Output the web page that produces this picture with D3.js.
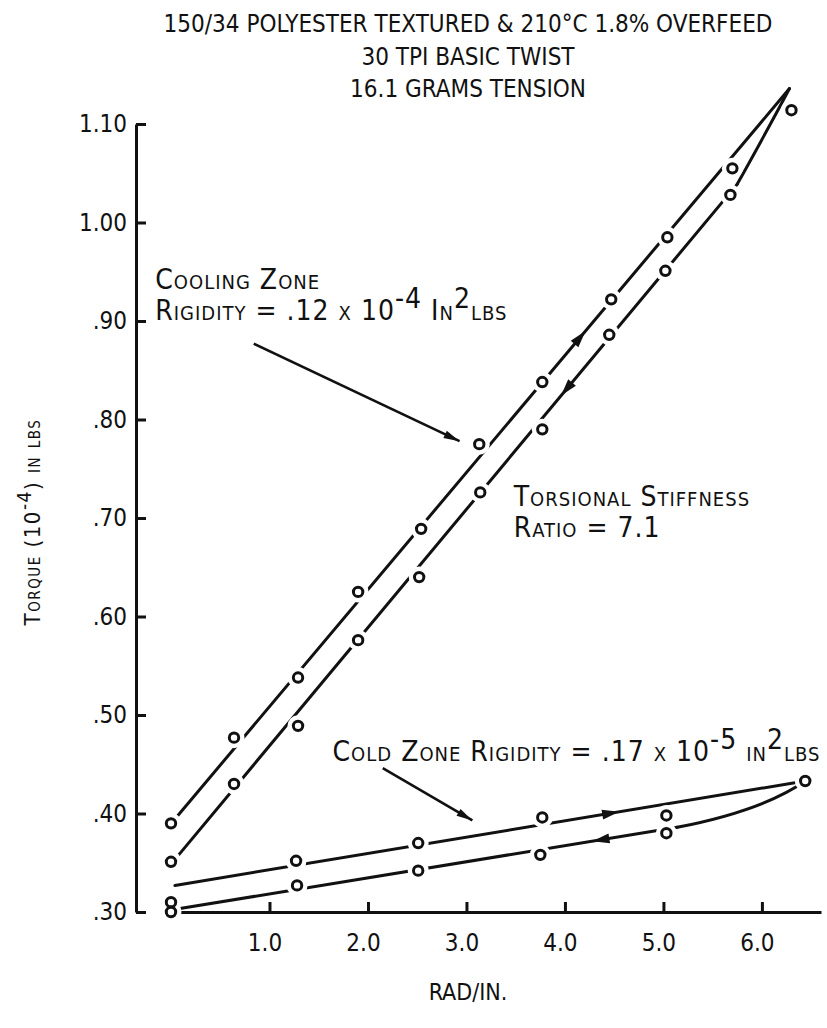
<!DOCTYPE html>
<html>
<head>
<meta charset="utf-8">
<script src="https://cdn.jsdelivr.net/npm/d3@7"></script>
<style>
  body { margin: 0; background: #fff; }
  text { font-family: "DejaVu Sans Condensed", "DejaVu Sans", sans-serif; fill: #111; }
</style>
</head>
<body>
<div id="chart"></div>
<script>
const width = 827;
const height = 1028;

// Title and axis text
const titleLines = ['150/34 POLYESTER TEXTURED & 210°C 1.8% OVERFEED', '30 TPI BASIC TWIST', '16.1 GRAMS TENSION'];
const yTicks = [0.30, 0.40, 0.50, 0.60, 0.70, 0.80, 0.90, 1.00, 1.10];
const yTickLabels = ['.30', '.40', '.50', '.60', '.70', '.80', '.90', '1.00', '1.10'];
const xTicks = [1, 2, 3, 4, 5, 6];
const xTickLabels = ['1.0', '2.0', '3.0', '4.0', '5.0', '6.0'];

// Cooling zone readings (rad/in, torque)
const coolUpX = [0, 0.64, 1.29, 1.90, 2.54, 3.13, 3.77, 4.47, 5.04, 5.70];
const coolUpY = [0.390, 0.477, 0.538, 0.625, 0.689, 0.775, 0.838, 0.922, 0.985, 1.055];
const coolDownX = [0, 0.64, 1.29, 1.90, 2.52, 3.14, 3.77, 4.45, 5.02, 5.68];
const coolDownY = [0.351, 0.430, 0.489, 0.576, 0.640, 0.726, 0.790, 0.886, 0.951, 1.028];
const coolTopPoint = [6.30, 1.114];

// Cold zone readings
const coldUpX = [0, 1.27, 2.51, 3.77, 5.03];
const coldUpY = [0.310, 0.352, 0.370, 0.396, 0.398];
const coldDownX = [0, 1.28, 2.51, 3.75, 5.03];
const coldDownY = [0.300, 0.327, 0.342, 0.358, 0.380];
const coldTopPoint = [6.44, 0.433];

// Hand-drawn fit lines (start, end) and return curves (start, control, end)
const coolUpLine = [[0.07, 0.398], [6.28, 1.136]];
const coolDownLine = [[0.07, 0.357], [5.75, 1.039]];
const coolReturn = [[5.75, 1.039], [6.09, 1.100], [6.28, 1.136]];
const coldUpLine = [[0.04, 0.327], [6.44, 0.433]];
const coldDownLine = [[0.06, 0.303], [5.14, 0.386]];
const coldReturn = [[5.14, 0.386], [6.01, 0.403], [6.44, 0.433]];

// Direction arrows on the curves: [line, x position, direction]
const flowArrows = [
  [coolUpLine, 4.15, 1],
  [coolDownLine, 4.02, -1],
  [coldUpLine, 4.46, 1],
  [coldDownLine, 4.37, -1]
];

// Annotation pointers (from, to)
const coolPointer = [[0.84, 0.877], [2.93, 0.778]];
const coldPointer = [[2.15, 0.446], [3.06, 0.393]];

const svg = d3.select('#chart')
  .append('svg')
  .attr('width', width)
  .attr('height', height);

const x = d3.scaleLinear().domain([0, 6.6]).range([171, 821]);
const y = d3.scaleLinear().domain([0.30, 1.10]).range([912, 124]);

// Title
svg.append('g')
  .selectAll('text')
  .data(titleLines)
  .enter()
  .append('text')
  .attr('x', 468)
  .attr('y', (d, i) => 32 + i * 32.5)
  .attr('text-anchor', 'middle')
  .attr('font-size', '24px')
  .text(d => d);

// Y axis
const yAxis = svg.append('g')
  .attr('transform', 'translate(136,0)')
  .call(d3.axisLeft(y)
    .tickValues(yTicks)
    .tickFormat((d, i) => yTickLabels[i])
    .tickSize(-10)
    .tickSizeOuter(0)
    .tickPadding(9));

// X axis
const xAxis = svg.append('g')
  .attr('transform', `translate(0,${y(0.30)})`)
  .call(d3.axisBottom(x)
    .tickValues(xTicks)
    .tickFormat((d, i) => xTickLabels[i])
    .tickSize(-10)
    .tickSizeOuter(0)
    .tickPadding(22));

[yAxis, xAxis].forEach(ax => {
  ax.select('.domain').attr('stroke', '#111').attr('stroke-width', 3);
  ax.selectAll('.tick line').attr('stroke', '#111').attr('stroke-width', 3);
  ax.selectAll('.tick text').attr('font-size', '24px').attr('fill', '#111')
    .attr('font-family', '"DejaVu Sans Condensed", "DejaVu Sans", sans-serif');
});
xAxis.selectAll('.tick text').attr('dx', -5);

// Axis titles
svg.append('text')
  .attr('x', 468)
  .attr('y', 1000)
  .attr('text-anchor', 'middle')
  .attr('font-size', '23px')
  .text('RAD/IN.');

const yTitle = svg.append('text')
  .attr('transform', 'translate(40,522) rotate(-90)')
  .attr('text-anchor', 'middle')
  .attr('font-size', '22px')
  .attr('letter-spacing', 1.5)
  .style('font-variant', 'small-caps');
yTitle.append('tspan').text('Torque (10');
yTitle.append('tspan').attr('dy', -9).attr('font-size', '19px').text('-4');
yTitle.append('tspan').attr('dy', 9).text(') in lbs');

// Data lines
const plot = svg.append('g');
const straight = d3.line().x(d => x(d[0])).y(d => y(d[1]));

[coolUpLine, coolDownLine, coldUpLine, coldDownLine].forEach(seg => {
  plot.append('path')
    .attr('d', straight(seg))
    .attr('fill', 'none')
    .attr('stroke', '#111')
    .attr('stroke-width', 3)
    .attr('stroke-linecap', 'round');
});

[coolReturn, coldReturn].forEach(c => {
  const p = d3.path();
  p.moveTo(x(c[0][0]), y(c[0][1]));
  p.quadraticCurveTo(x(c[1][0]), y(c[1][1]), x(c[2][0]), y(c[2][1]));
  plot.append('path')
    .attr('d', p.toString())
    .attr('fill', 'none')
    .attr('stroke', '#111')
    .attr('stroke-width', 3)
    .attr('stroke-linecap', 'round');
});

// Flow arrows on the lines
flowArrows.forEach(([seg, xv, dir]) => {
  const [a, b] = seg;
  const t = (xv - a[0]) / (b[0] - a[0]);
  const px = x(xv);
  const py = y(a[1] + t * (b[1] - a[1]));
  let ang = Math.atan2(y(b[1]) - y(a[1]), x(b[0]) - x(a[0])) * 180 / Math.PI;
  if (dir < 0) ang += 180;
  plot.append('path')
    .attr('d', 'M9,0 L-8,-5 L-8,5 Z')
    .attr('transform', `translate(${px},${py}) rotate(${ang})`)
    .attr('fill', '#111');
});

// Points, with white halo so lines break around them
const points = [];
coolUpX.forEach((d, i) => points.push([d, coolUpY[i]]));
coolDownX.forEach((d, i) => points.push([d, coolDownY[i]]));
coldUpX.forEach((d, i) => points.push([d, coldUpY[i]]));
coldDownX.forEach((d, i) => points.push([d, coldDownY[i]]));
points.push(coolTopPoint, coldTopPoint);

plot.selectAll('.halo')
  .data(points)
  .enter()
  .append('circle')
  .attr('class', 'halo')
  .attr('cx', d => x(d[0]))
  .attr('cy', d => y(d[1]))
  .attr('r', 10.5)
  .attr('fill', '#fff');

plot.selectAll('.pt')
  .data(points)
  .enter()
  .append('circle')
  .attr('class', 'pt')
  .attr('cx', d => x(d[0]))
  .attr('cy', d => y(d[1]))
  .attr('r', 4.7)
  .attr('fill', '#fff')
  .attr('stroke', '#111')
  .attr('stroke-width', 3);

// Pointer arrows
[coolPointer, coldPointer].forEach(([a, b]) => {
  const x1 = x(a[0]), y1 = y(a[1]), x2 = x(b[0]), y2 = y(b[1]);
  const ang = Math.atan2(y2 - y1, x2 - x1) * 180 / Math.PI;
  svg.append('line')
    .attr('x1', x1).attr('y1', y1)
    .attr('x2', x2).attr('y2', y2)
    .attr('stroke', '#111')
    .attr('stroke-width', 2.6);
  svg.append('path')
    .attr('d', 'M0,0 L-16,-4 L-16,4 Z')
    .attr('transform', `translate(${x2},${y2}) rotate(${ang})`)
    .attr('fill', '#111');
});

// Annotation text (small caps with superscripts)
function note(xv, yv, parts) {
  const t = svg.append('text')
    .attr('x', x(xv))
    .attr('y', y(yv))
    .attr('font-size', '28px')
    .attr('letter-spacing', 1)
    .style('font-variant', 'small-caps');
  parts.forEach(p => {
    const s = t.append('tspan').text(p.t);
    if (p.sup) s.attr('dy', -12);
    if (p.down) s.attr('dy', 12);
  });
  return t;
}

note(-0.16, 0.932, [{ t: 'Cooling Zone' }]);
note(-0.16, 0.901, [
  { t: 'Rigidity = .12 x 10' }, { t: '-4', sup: true },
  { t: ' In', down: true }, { t: '2', sup: true }, { t: 'lbs', down: true }
]);
note(3.48, 0.712, [{ t: 'Torsional Stiffness' }]);
note(3.48, 0.681, [{ t: 'Ratio = 7.1' }]);
note(1.64, 0.453, [
  { t: 'Cold Zone Rigidity = .17 x 10' }, { t: '-5', sup: true },
  { t: ' in', down: true }, { t: '2', sup: true }, { t: 'lbs', down: true }
]);
</script>
</body>
</html>
